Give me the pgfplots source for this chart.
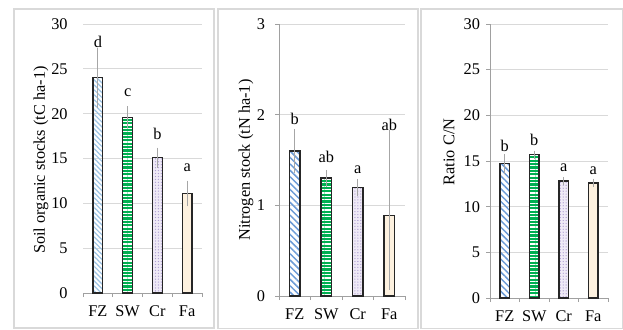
\documentclass[border=0pt]{standalone}
\usepackage{pgfplots}
\pgfplotsset{compat=1.18}
\usepackage{fontspec}
\setmainfont{Liberation Serif}
\usetikzlibrary{patterns,patterns.meta}

\definecolor{fzblueA}{HTML}{9CC3E4}
\definecolor{fzblue}{HTML}{6C9BD6}
\definecolor{swgreen}{HTML}{00B050}
\definecolor{crfill}{HTML}{EFEAF6}
\definecolor{crdot}{HTML}{AE9FD2}
\definecolor{fafill}{HTML}{FDF1DF}
\definecolor{edge}{HTML}{262626}
\definecolor{gridgray}{HTML}{D9D9D9}
\definecolor{axisgray}{HTML}{A0A0A0}
\definecolor{errgray}{HTML}{A6A6A6}
\definecolor{framegray}{HTML}{D9D9D9}

\newcommand{\lbl}{\fontsize{12.25}{13.5}\selectfont}

\pgfplotsset{
  panel/.style={
    scale only axis, anchor=south west,
    xmin=-0.5, xmax=3.5, ymin=0,
    enlargelimits=false,
    xtick={0,1,2,3}, xticklabels={FZ,SW,Cr,Fa},
    minor xtick={-0.5,0.5,1.5,2.5,3.5},
    major x tick style={draw=none},
    minor tick length=3pt,
    major tick length=3pt,
    tick align=outside,
    tick style={axisgray, line width=0.6pt},
    axis x line*=bottom, axis y line*=left,
    axis line style={axisgray, line width=0.75pt},
    ymajorgrids, grid style={gridgray, line width=0.6pt},
    ticklabel style={font=\lbl},
    label style={font=\lbl},
    /pgf/number format/assume math mode=true,
    xticklabel style={yshift=-3pt},
    bar width=0.33,
    every axis plot/.append style={line width=1pt},
  },
  errs/.style={
    error bars/.cd, y dir=both, y explicit,
    error bar style={errgray, line width=0.7pt},
    error mark options={errgray, mark size=2.2pt, line width=0.7pt},
  },
  letters/.style={
    draw=none, mark=none, nodes near coords, point meta=explicit symbolic,
    nodes near coords style={font=\lbl, anchor=base, inner sep=0pt, text=black},
  },
}

\begin{document}
\begin{tikzpicture}
\useasboundingbox (0,0) rectangle (467.25pt,246.75pt);
% panel frames
\draw[framegray, line width=0.8pt] (10.5pt,0.75pt) rectangle (160.5pt,240pt);
\draw[framegray, line width=0.8pt] (163.5pt,0.5pt) rectangle (313.5pt,240pt);
\draw[framegray, line width=0.8pt] (315.75pt,0.5pt) rectangle (466.75pt,240pt);

% ---------- Panel 1 ----------
\begin{axis}[panel, at={(62.25pt,27pt)}, width=89.25pt, height=201.75pt,
  ymax=30, ytick={0,5,...,30},
  y axis line style={draw=none}, major y tick style={draw=none},
  yticklabel style={xshift=-5pt},
  ylabel={Soil organic stocks (tC ha-1)},
  ylabel style={at={(axis description cs:-0.353,0.494)}, anchor=center, rotate=0},
]
\addplot[ybar, bar shift=0pt, draw=edge, fill=white, pattern={Lines[angle=-45,distance=2.6pt,line width=0.9pt]}, pattern color=fzblueA, errs]
  coordinates {(0,24) +- (0,3)};
\addplot[ybar, bar shift=0pt, draw=edge, preaction={fill=swgreen}, pattern={Lines[angle=0,distance=2.55pt,line width=0.8pt]}, pattern color=white, errs]
  coordinates {(1,19.6) +- (0,0.9)};
\addplot[ybar, bar shift=0pt, draw=edge, preaction={fill=crfill}, pattern={Dots[distance=2.2pt,radius=0.5pt]}, pattern color=crdot, errs]
  coordinates {(2,15.1) +- (0,0.8)};
\addplot[ybar, bar shift=0pt, draw=edge, fill=fafill, errs]
  coordinates {(3,11.1) +- (0,1.1)};
\addplot[letters] table[meta=lab] {
x y lab
0 27.4 d
1 21.9 c
2 17.1 b
3 13.5 a
};
\end{axis}

% ---------- Panel 2 ----------
\begin{axis}[panel, at={(209.25pt,24.75pt)}, width=94.5pt, height=204pt,
  ymax=3, ytick={0,1,2,3},
  yticklabel style={xshift=-4pt},
  ylabel={Nitrogen stock (tN ha-1)},
  ylabel style={at={(axis description cs:-0.262,0.5)}, anchor=center, rotate=0},
]
\addplot[ybar, bar shift=0pt, draw=edge, fill=white, pattern={Lines[angle=-45,distance=3.4pt,line width=1.1pt]}, pattern color=fzblue, errs]
  coordinates {(0,1.60) +- (0,0.21)};
\addplot[ybar, bar shift=0pt, draw=edge, preaction={fill=swgreen}, pattern={Lines[angle=0,distance=2.55pt,line width=0.8pt]}, pattern color=white, errs]
  coordinates {(1,1.30) +- (0,0.06)};
\addplot[ybar, bar shift=0pt, draw=edge, preaction={fill=crfill}, pattern={Dots[distance=2.2pt,radius=0.5pt]}, pattern color=crdot, errs]
  coordinates {(2,1.20) +- (0,0.06)};
\addplot[ybar, bar shift=0pt, draw=edge, fill=fafill, errs]
  coordinates {(3,0.89) += (0,0.91) -= (0,0.79)};
\addplot[letters] table[meta=lab] {
x y lab
0 1.89 b
1 1.47 ab
2 1.35 a
3 1.82 ab
};
\end{axis}

% ---------- Panel 3 ----------
\begin{axis}[panel, at={(367.5pt,23.25pt)}, width=88.5pt, height=205.5pt,
  ymax=30, ytick={0,5,...,30},
  yticklabel style={xshift=-1pt},
  ylabel={Ratio C/N},
  ylabel style={at={(axis description cs:-0.347,0.533)}, anchor=center, rotate=0},
]
\addplot[ybar, bar shift=0pt, draw=edge, fill=white, pattern={Lines[angle=-45,distance=3.4pt,line width=1.1pt]}, pattern color=fzblue, errs]
  coordinates {(0,14.7) +- (0,0.75)};
\addplot[ybar, bar shift=0pt, draw=edge, preaction={fill=swgreen}, pattern={Lines[angle=0,distance=2.55pt,line width=0.8pt]}, pattern color=white, errs]
  coordinates {(1,15.7) +- (0,0.12)};
\addplot[ybar, bar shift=0pt, draw=edge, preaction={fill=crfill}, pattern={Dots[distance=2.2pt,radius=0.5pt]}, pattern color=crdot, errs]
  coordinates {(2,12.8) +- (0,0.15)};
\addplot[ybar, bar shift=0pt, draw=edge, fill=fafill, errs]
  coordinates {(3,12.6) +- (0,0.15)};
\addplot[letters] table[meta=lab] {
x y lab
0 16.0 b
1 16.7 b
2 13.8 a
3 13.5 a
};
\end{axis}
\end{tikzpicture}
\end{document}
